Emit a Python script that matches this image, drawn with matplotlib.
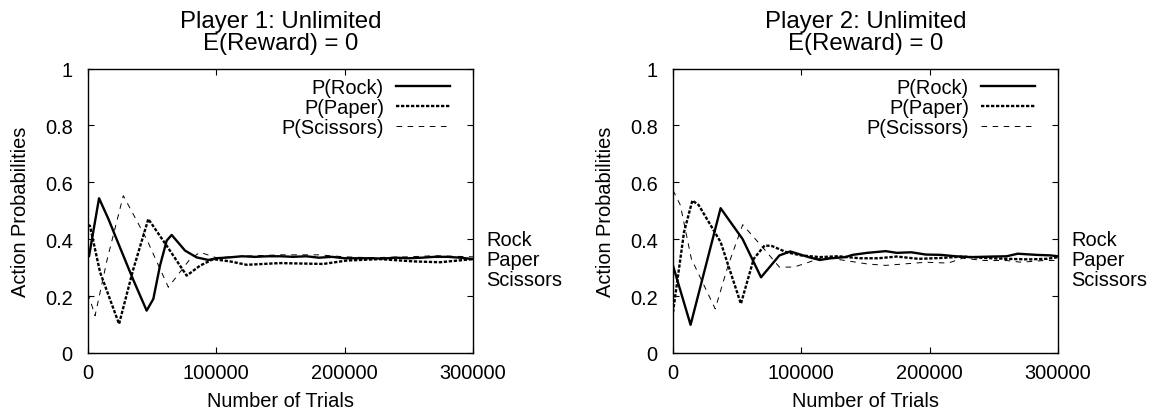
import matplotlib
matplotlib.use('Agg')
import matplotlib.pyplot as plt
import matplotlib.transforms as mtransforms

plt.rcParams['font.family'] = ['Liberation Sans', 'DejaVu Sans']
plt.rcParams['font.size'] = 14.4
plt.rcParams['lines.scale_dashes'] = False

# Player 1 (left panel)
p1_rock_x = [0, 800, 8600, 16000, 25000, 35000, 45700, 50900, 56100, 61300, 65200, 75600,
             84700, 93800, 100000, 110000, 120000, 130000, 140000, 150000, 160000, 170000,
             180000, 190000, 200000, 210000, 220000, 230000, 240000, 250000, 260000, 270000,
             280000, 290000, 300000]
p1_rock_y = [0.34, 0.34, 0.544, 0.47, 0.37, 0.26, 0.149, 0.19, 0.307, 0.395, 0.415, 0.36,
             0.336, 0.327, 0.333, 0.336, 0.34, 0.338, 0.34, 0.34, 0.338, 0.34, 0.335, 0.338,
             0.333, 0.333, 0.333, 0.332, 0.335, 0.333, 0.335, 0.338, 0.338, 0.335, 0.33]

p1_paper_x = [0, 1500, 9400, 24200, 35000, 47000, 61300, 76900, 87300, 97600, 110600,
              123600, 149600, 183400, 201600, 227500, 253500, 274300, 300000]
p1_paper_y = [0.45, 0.447, 0.284, 0.102, 0.29, 0.471, 0.377, 0.272, 0.307, 0.33, 0.322,
              0.31, 0.316, 0.313, 0.325, 0.33, 0.322, 0.319, 0.33]

p1_sciss_x = [0, 5500, 15000, 27500, 45700, 62600, 79500, 87300, 100000, 120000, 150000,
              180000, 200000, 220000, 250000, 270000, 300000]
p1_sciss_y = [0.21, 0.131, 0.33, 0.553, 0.40, 0.231, 0.33, 0.354, 0.335, 0.34, 0.345,
              0.345, 0.338, 0.335, 0.338, 0.342, 0.338]

# Player 2 (right panel)
p2_rock_x = [0, 13700, 37100, 54300, 68600, 82900, 91400, 105700, 114300, 122900, 134300,
             140000, 151400, 165700, 174300, 185700, 197100, 208600, 220000, 231400, 248600,
             260000, 268600, 282900, 294300, 300000]
p2_rock_y = [0.307, 0.099, 0.509, 0.40, 0.266, 0.343, 0.357, 0.337, 0.327, 0.333, 0.337,
             0.345, 0.352, 0.358, 0.352, 0.354, 0.346, 0.345, 0.34, 0.337, 0.339, 0.34,
             0.349, 0.345, 0.343, 0.34]

p2_paper_x = [0, 8600, 15100, 20000, 37100, 52900, 62900, 71400, 77100, 88600, 100000,
              114300, 128600, 145700, 160000, 174300, 191400, 208600, 225700, 242900,
              260000, 277100, 291400, 300000]
p2_paper_y = [0.143, 0.425, 0.536, 0.52, 0.39, 0.173, 0.331, 0.378, 0.376, 0.354, 0.343,
              0.337, 0.34, 0.333, 0.333, 0.339, 0.331, 0.334, 0.339, 0.334, 0.331, 0.329,
              0.331, 0.337]

p2_sciss_x = [0, 5700, 14300, 32900, 42900, 54300, 68600, 82900, 94300, 105700, 117100,
              134300, 151400, 165700, 180000, 197100, 214300, 225700, 242900, 260000,
              271400, 288600, 300000]
p2_sciss_y = [0.572, 0.52, 0.331, 0.155, 0.307, 0.451, 0.378, 0.302, 0.302, 0.319, 0.337,
              0.325, 0.313, 0.308, 0.313, 0.319, 0.316, 0.333, 0.325, 0.325, 0.319, 0.325,
              0.325]

titles = ['Player 1: Unlimited\nE(Reward) = 0', 'Player 2: Unlimited\nE(Reward) = 0']
side_labels = ['Rock', 'Paper', 'Scissors']
side_label_y = [0.40, 0.33, 0.26]
x_ticks = [0, 100000, 200000, 300000]
y_ticks = [0, 0.2, 0.4, 0.6, 0.8, 1]
y_tick_labels = ['0', '0.2', '0.4', '0.6', '0.8', '1']

panels = [
    (p1_rock_x, p1_rock_y, p1_paper_x, p1_paper_y, p1_sciss_x, p1_sciss_y),
    (p2_rock_x, p2_rock_y, p2_paper_x, p2_paper_y, p2_sciss_x, p2_sciss_y),
]

fig = plt.figure(figsize=(11.49, 4.14), dpi=100)
lefts = [88 / 1149, 673 / 1149]

for i, (rx, ry, px, py, sx, sy) in enumerate(panels):
    ax = fig.add_axes([lefts[i], 60 / 414, 385 / 1149, 284.5 / 414])
    ax.plot(rx, ry, color='black', lw=1.7, label='P(Rock)')
    ax.plot(px, py, color='black', lw=1.7, dashes=(2.4, 1.2), label='P(Paper)')
    ax.plot(sx, sy, color='black', lw=0.7, dashes=(4, 4), label='P(Scissors)')

    ax.set_xlim(0, 300000)
    ax.set_ylim(0, 1)
    ax.set_xticks(x_ticks)
    ax.set_xticklabels([str(t) for t in x_ticks])
    ax.set_yticks(y_ticks)
    ax.set_yticklabels(y_tick_labels)
    ax.tick_params(direction='in', top=True, right=True, length=4, width=0.8)
    ax.tick_params(axis='x', pad=7)
    ax.tick_params(axis='y', pad=11)
    for sp in ax.spines.values():
        sp.set_linewidth(1.0)

    ax.set_xlabel('Number of Trials', labelpad=7)
    ax.set_ylabel('Action Probabilities', labelpad=11)
    ax.set_title(titles[i], pad=14, linespacing=1.0)

    ax.legend(loc='upper right', bbox_to_anchor=(0.94, 0.967), frameon=False,
              markerfirst=False, handlelength=2.7, handletextpad=0.6,
              labelspacing=0.05, borderpad=0, borderaxespad=0)

    trans = mtransforms.blended_transform_factory(ax.transAxes, ax.transData)
    for lab, yv in zip(side_labels, side_label_y):
        ax.text(1.034, yv, lab, transform=trans, ha='left', va='center')

fig.savefig('out.png', dpi=100)
